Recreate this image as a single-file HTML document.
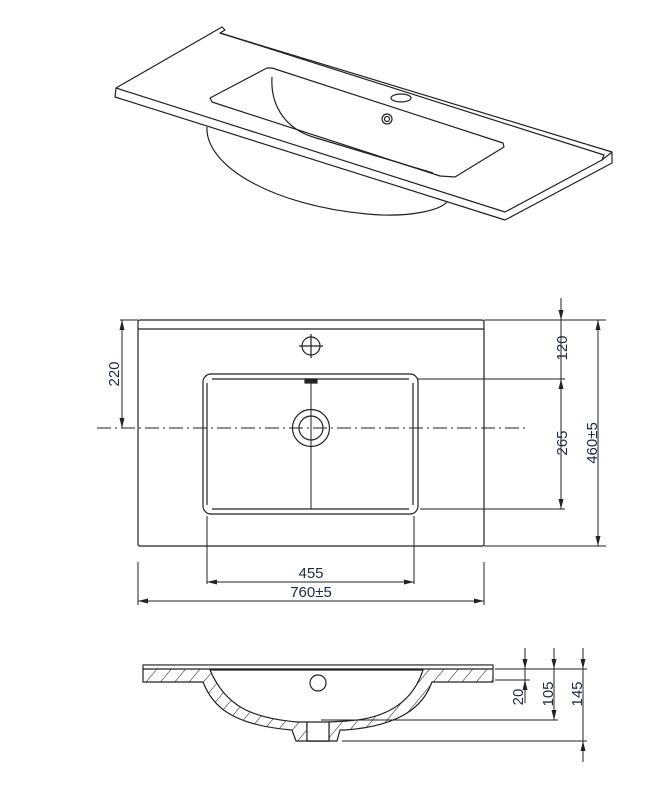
<!DOCTYPE html>
<html><head><meta charset="utf-8"><style>
html,body{margin:0;padding:0;background:#fff}
svg{display:block}
text{font-family:"Liberation Sans",sans-serif;font-size:15px;fill:#1c2940}
</style></head><body>
<svg width="661" height="787" viewBox="0 0 661 787" xmlns="http://www.w3.org/2000/svg">
<defs>
<marker id="a" viewBox="0 0 10 6" refX="10" refY="3" markerWidth="10" markerHeight="6" orient="auto-start-reverse" markerUnits="userSpaceOnUse"><path d="M0,0.5 L10,3 L0,5.5z" fill="#222"/></marker>
<pattern id="h" patternUnits="userSpaceOnUse" width="11" height="11" patternTransform="rotate(40)"><rect width="11" height="11" fill="#fff"/><line x1="0" y1="0" x2="0" y2="11" stroke="#222" stroke-width="1.1"/></pattern>
</defs>
<g fill="none" stroke="#222" stroke-width="1.2" stroke-linejoin="round">
<!-- perspective -->
<path d="M207,127 C205,165 270,205 367,214 C410,218 440,210 447,202"/>
<path d="M116,88 L222,27 L225,30 L220,33 L612,152 L612,163 L505,220 L115,97 Z" fill="#fff"/>
<path d="M116,88 L505,212 L602,160 L612,152"/>
<path d="M220,33 L604,155 L602,160"/>
<path d="M210,98 L267,68 L272,68 L503,143 L504,147 L455,177 L440,176 L212,102 Z"/>
<path d="M272,77 C270,110 290,130 313,137"/>
<path d="M313,137 L433,173"/>
<ellipse cx="401" cy="98" rx="10" ry="4"/>
<circle cx="387" cy="119" r="5"/><circle cx="387" cy="119" r="2.5"/>
<!-- plan -->
<rect x="138" y="320" width="346" height="226" rx="2"/>
<line x1="138" y1="329" x2="484" y2="329"/>
<rect x="203" y="374" width="215" height="140" rx="8"/>
<path d="M212,379 L409,379 M212,509 L409,509 M207,383 L207,505 M413,383 L413,505"/>
<circle cx="311" cy="346" r="9"/>
<path d="M299,346 H323 M311,334 V358"/>
<circle cx="311" cy="428" r="18.5"/><circle cx="311" cy="428" r="12"/>
<line x1="311" y1="383" x2="311" y2="509" stroke-width="1"/>
<rect x="305" y="379" width="12" height="4" fill="#222"/>
<line x1="97" y1="428" x2="527" y2="428" stroke-width="1" stroke-dasharray="14,4,2,4"/>
<g stroke-width="1">
<line x1="120" y1="320" x2="138" y2="320"/>
<line x1="122" y1="320" x2="122" y2="428" marker-start="url(#a)" marker-end="url(#a)"/>
<line x1="418" y1="379" x2="565" y2="379"/>
<line x1="420" y1="509" x2="565" y2="509"/>
<line x1="484" y1="320" x2="606" y2="320"/>
<line x1="484" y1="546" x2="606" y2="546"/>
<line x1="561" y1="298" x2="561" y2="320" marker-end="url(#a)"/>
<line x1="561" y1="320" x2="561" y2="379"/>
<line x1="561" y1="379" x2="561" y2="509" marker-start="url(#a)" marker-end="url(#a)"/>
<line x1="598" y1="320" x2="598" y2="546" marker-start="url(#a)" marker-end="url(#a)"/>
<line x1="207" y1="516" x2="207" y2="584"/>
<line x1="414" y1="516" x2="414" y2="584"/>
<line x1="207" y1="582" x2="414" y2="582" marker-start="url(#a)" marker-end="url(#a)"/>
<line x1="138" y1="562" x2="138" y2="605"/>
<line x1="484" y1="562" x2="484" y2="605"/>
<line x1="138" y1="601" x2="484" y2="601" marker-start="url(#a)" marker-end="url(#a)"/>
</g>
<!-- section -->
<path d="M143,665 L493,665 L493,682 L432,682 C425,700 410,725 345,730 L340,730 L337,741 L296,741 L292,730 C230,725 212,705 203,682 L143,682 Z" fill="url(#h)"/>
<rect x="143.6" y="665.6" width="348.8" height="3.4" fill="#fff" stroke="none"/>
<path d="M210,670 C225,705 250,718 297,722 L307,722 L307,741 L329,741 L329,722 L347,721 C395,718 415,695 423,670 Z" fill="#fff"/>
<line x1="143" y1="669" x2="493" y2="669"/>
<rect x="307" y="722" width="22" height="19" fill="#fff"/>
<circle cx="318" cy="683" r="8"/>
<g stroke-width="1">
<line x1="495" y1="669" x2="587" y2="669"/>
<line x1="495" y1="680" x2="530" y2="680"/>
<line x1="321" y1="720" x2="558" y2="720"/>
<line x1="342" y1="741" x2="587" y2="741"/>
<line x1="525" y1="648" x2="525" y2="669" marker-end="url(#a)"/>
<line x1="525" y1="703" x2="525" y2="680" marker-end="url(#a)"/>
<line x1="525" y1="669" x2="525" y2="680"/>
<line x1="554" y1="648" x2="554" y2="669" marker-end="url(#a)"/>
<line x1="554" y1="669" x2="554" y2="720" marker-end="url(#a)"/>
<line x1="583" y1="648" x2="583" y2="669" marker-end="url(#a)"/>
<line x1="583" y1="669" x2="583" y2="741"/>
<line x1="583" y1="762" x2="583" y2="741" marker-end="url(#a)"/>
</g>
</g>
<text transform="translate(119,374) rotate(-90)" text-anchor="middle">220</text>
<text transform="translate(567,348) rotate(-90)" text-anchor="middle">120</text>
<text transform="translate(567,443) rotate(-90)" text-anchor="middle">265</text>
<text transform="translate(597,443) rotate(-90)" text-anchor="middle">460±5</text>
<text x="311" y="578" text-anchor="middle">455</text>
<text x="311" y="597" text-anchor="middle">760±5</text>
<text transform="translate(523,697) rotate(-90)" text-anchor="middle">20</text>
<text transform="translate(553,694) rotate(-90)" text-anchor="middle">105</text>
<text transform="translate(582,694) rotate(-90)" text-anchor="middle">145</text>
</svg>
</body></html>
